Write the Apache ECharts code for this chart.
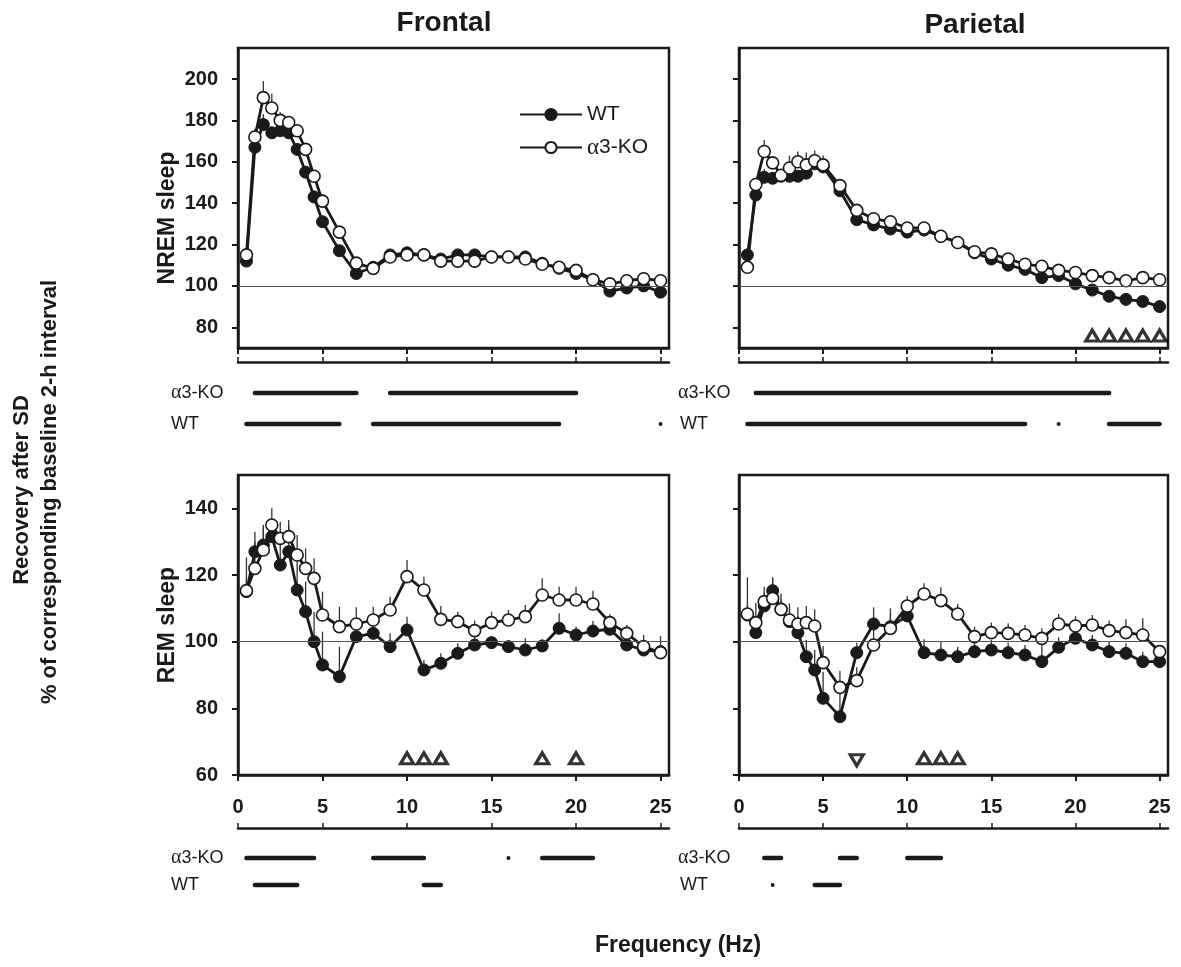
<!DOCTYPE html>
<html>
<head>
<meta charset="utf-8">
<script src="https://cdn.jsdelivr.net/npm/echarts@6/dist/echarts.min.js"></script>
<style>
html, body { margin: 0; padding: 0; background: #fff; }
#chart { width: 1181px; height: 967px; }
</style>
</head>
<body>
<div id="chart"></div>
<script>
// frequency bins (Hz)
const hz = [0.5, 1, 1.5, 2, 2.5, 3, 3.5, 4, 4.5, 5, 6, 7, 8, 9, 10, 11, 12, 13, 14, 15, 16, 17, 18, 19, 20, 21, 22, 23, 24, 25];
const xTicks = [0, 5, 10, 15, 20, 25];
const nremTicks = [80, 100, 120, 140, 160, 180, 200];
const remTicks = [60, 80, 100, 120, 140];

// NREM sleep, frontal
const nremFrWT = [112, 167, 178, 174, 175, 174, 166, 155, 143, 131, 117, 106, 109, 115, 116, 115, 113, 115, 115, 114, 114, 114, 111, 108.5, 106, 103, 97.5, 99, 100, 97];
const nremFrKO = [115, 172, 191, 186, 180, 179, 175, 166, 153, 141, 126, 111, 108.5, 114, 115, 115, 112, 112, 112, 114, 114, 113, 110.5, 109, 107.5, 103, 101, 102.5, 103.5, 102.5];
const nremFrWTErr = [2, 5, 5, 3, 3, 3, 3, 3, 3, 3, 2, 2, 2, 2, 2, 2, 2, 2, 2, 2, 2, 2, 2, 2, 2, 2, 2, 2, 2, 2];
const nremFrKOErr = [2, 4, 8, 7, 4, 3, 3, 3, 3, 3, 3, 2, 2, 2, 2, 2, 2, 2, 2, 2, 2, 2, 2, 2, 2, 2, 2, 2, 2, 2];

// NREM sleep, parietal
const nremPaWT = [115, 144, 152.5, 152, 153, 153, 153, 154.5, 159, 157.5, 146, 132, 129.5, 127.5, 126, 127, 124, 121, 116, 113, 110, 108, 104, 105, 101, 98, 95, 93.5, 92.5, 90];
const nremPaKO = [109, 149, 165, 159.5, 153.5, 157, 160, 158.5, 160.5, 158.5, 148.5, 136.5, 132.5, 131, 128, 128, 124, 121, 116.5, 115.5, 113, 110.5, 109.5, 107.5, 106.5, 105, 104, 102.5, 104, 103];
const nremPaWTErr = [2, 3, 4, 3, 2, 3, 3, 3, 3, 3, 2, 2, 2, 2, 2, 2, 2, 2, 2, 2, 2, 2, 2, 2, 2, 2, 2, 2, 2, 2];
const nremPaKOErr = [2, 3, 5.5, 3, 2, 6, 5, 6, 5, 4.5, 3, 2, 2, 2, 2, 2, 2, 2, 2, 2, 2, 2, 2, 2, 2, 2, 2, 2, 2, 2];

// REM sleep, frontal
const remFrWT = [115, 127, 129, 131.5, 123, 127, 115.5, 109, 100, 93, 89.5, 101.5, 102.5, 98.5, 103.5, 91.5, 93.5, 96.5, 99, 99.7, 98.5, 97.5, 98.7, 104, 102, 103.2, 103.7, 99, 97.5, 97];
const remFrKO = [115.3, 122, 127.5, 135, 131, 131.5, 126, 122, 119, 108, 104.5, 105.3, 106.5, 109.5, 119.5, 115.5, 106.7, 106, 103.3, 105.7, 106.5, 107.5, 114, 112.5, 112.5, 111.3, 105.7, 102.5, 98.5, 96.7];
const remFrWTErr = [4, 6, 6, 5, 7, 8, 10, 9, 9, 10, 9, 5, 4, 4, 4, 3, 3, 3, 3, 2, 2, 3.5, 2, 4.5, 2.5, 3, 2, 2, 2, 2];
const remFrKOErr = [10, 8, 7, 5, 5, 5, 6, 6, 6, 7, 6, 5, 4, 4, 5, 4, 4, 3, 3, 3.3, 3, 3.5, 5, 4, 4, 4, 2.5, 2.5, 3.5, 5];

// REM sleep, parietal
const remPaWT = [108, 102.7, 110.7, 115.3, 109.7, 106, 102.7, 95.5, 91.5, 83, 77.5, 96.7, 105.3, 104.5, 107.7, 96.7, 96, 95.5, 97, 97.5, 96.7, 96, 94, 98.3, 101, 99, 97, 96.5, 94, 94];
const remPaKO = [108.3, 105.7, 112, 113, 109.7, 106.5, 105.3, 105.7, 104.7, 93.7, 86.3, 88.3, 99, 104, 110.7, 114.3, 112.3, 108.3, 101.5, 102.7, 102.5, 102, 101, 105.3, 104.7, 105, 103.3, 102.7, 102, 97];
const remPaWTErr = [3, 4, 4, 4, 3, 4, 5, 5, 6, 8, 8.5, 3, 5, 4, 3, 4, 4, 3, 3, 3, 3, 3, 7, 3, 3, 3, 3, 3, 3, 2];
const remPaKOErr = [11, 6, 4.5, 6, 4.7, 5, 5, 5, 5, 5, 5, 4, 6, 6, 3, 3.2, 4, 3, 3, 3, 3, 3, 3, 3, 3, 3, 3, 4, 5, 2];

// significance markers (triangles)
const triNremPaUp = [21, 22, 23, 24, 25];
const triRemFrUp = [10, 11, 12, 18, 20];
const triRemPaUp = [11, 12, 13];
const triRemPaDown = [7];

// significance bars below panels: [from Hz, to Hz]
const sigNremFrKO = [[1, 7], [9, 20]];
const sigNremFrWT = [[0.5, 6], [8, 19], [25, 25]];
const sigNremPaKO = [[1, 22]];
const sigNremPaWT = [[0.5, 17], [19, 19], [22, 25]];
const sigRemFrKO = [[0.5, 4.5], [8, 11], [16, 16], [18, 21]];
const sigRemFrWT = [[1, 3.5], [11, 12]];
const sigRemPaKO = [[1.5, 2.5], [6, 7], [10, 12]];
const sigRemPaWT = [[2, 2], [4.5, 6]];

const FONT = "'Liberation Sans', Arial, sans-serif";
const SERIF = "'Liberation Serif', 'Times New Roman', serif";
const INK = '#1a1a1a';

const chart = echarts.init(document.getElementById('chart'));

const boxes = [
    {left: 238, top: 48, width: 431, height: 300},
    {left: 739, top: 48, width: 429, height: 300},
    {left: 238, top: 475, width: 431, height: 300},
    {left: 739, top: 475, width: 429, height: 300}
];
const sigBoxes = [
    {left: 238, top: 393, width: 431, height: 31},
    {left: 739, top: 393, width: 429, height: 31},
    {left: 238, top: 858, width: 431, height: 27},
    {left: 739, top: 858, width: 429, height: 27}
];

const grid = [];
const xAxis = [];
const yAxis = [];
const series = [];

boxes.forEach((b, g) => {
    grid.push(Object.assign({show: true, borderColor: INK, borderWidth: 2.5, backgroundColor: 'transparent'}, b));
    const isBottom = g >= 2;
    // main x axis on the box
    xAxis.push({
        gridIndex: g, type: 'value', min: 0, max: 25.5,
        axisLine: {show: true, onZero: false, lineStyle: {color: INK, width: 2.5}},
        axisTick: {show: true, inside: false, length: 6, customValues: xTicks, lineStyle: {color: INK, width: 2}},
        axisLabel: {show: isBottom, customValues: xTicks, margin: 22, fontSize: 20, fontWeight: 'bold', fontFamily: FONT, color: INK},
        splitLine: {show: false}
    });
    // lower axis line
    xAxis.push({
        gridIndex: g, type: 'value', min: 0, max: 25.5, position: 'bottom', offset: isBottom ? 53 : 14,
        axisLine: {show: true, onZero: false, lineStyle: {color: INK, width: 2.5}},
        axisTick: {show: true, inside: true, length: 5, customValues: xTicks, lineStyle: {color: INK, width: 1.5}},
        axisLabel: {show: false},
        splitLine: {show: false}
    });
    const ticks = isBottom ? remTicks : nremTicks;
    yAxis.push({
        gridIndex: g, type: 'value', min: isBottom ? 60 : 70, max: isBottom ? 150 : 215,
        axisLine: {show: true, onZero: false, lineStyle: {color: INK, width: 2.5}},
        axisTick: {show: true, inside: false, length: 6, customValues: ticks, lineStyle: {color: INK, width: 2}},
        axisLabel: {show: g % 2 === 0, customValues: ticks, margin: 20, fontSize: 20, fontWeight: 'bold', fontFamily: FONT, color: INK},
        splitLine: {show: false}
    });
});

sigBoxes.forEach((b, i) => {
    const g = 4 + i;
    grid.push(Object.assign({show: false}, b));
    xAxis.push({gridIndex: g, type: 'value', min: 0, max: 25.5, show: false});
    yAxis.push({gridIndex: g, type: 'value', min: 0, max: 1, show: false});
});

const panels = [
    {wt: nremFrWT, ko: nremFrKO, wtErr: nremFrWTErr, koErr: nremFrKOErr, up: [], down: [], triY: 76, sigKO: sigNremFrKO, sigWT: sigNremFrWT},
    {wt: nremPaWT, ko: nremPaKO, wtErr: nremPaWTErr, koErr: nremPaKOErr, up: triNremPaUp, down: [], triY: 76, sigKO: sigNremPaKO, sigWT: sigNremPaWT},
    {wt: remFrWT, ko: remFrKO, wtErr: remFrWTErr, koErr: remFrKOErr, up: triRemFrUp, down: [], triY: 65, sigKO: sigRemFrKO, sigWT: sigRemFrWT},
    {wt: remPaWT, ko: remPaKO, wtErr: remPaWTErr, koErr: remPaKOErr, up: triRemPaUp, down: triRemPaDown, triY: 65, sigKO: sigRemPaKO, sigWT: sigRemPaWT}
];

const errSeries = (g, vals, errs) => ({
    type: 'custom', xAxisIndex: g * 2, yAxisIndex: g, z: 1, silent: true,
    data: hz.map((h, i) => [h, vals[i], vals[i] + errs[i]]),
    renderItem: (params, api) => {
        const p0 = api.coord([api.value(0), api.value(1)]);
        const p1 = api.coord([api.value(0), api.value(2)]);
        return {type: 'line', shape: {x1: p0[0], y1: p0[1], x2: p1[0], y2: p1[1]}, style: {stroke: '#333', lineWidth: 1.3}};
    }
});

const sigSeries = (i, ko, wt) => ({
    type: 'custom', xAxisIndex: 8 + i, yAxisIndex: 4 + i, silent: true,
    data: ko.map(s => [s[0], s[1], 1]).concat(wt.map(s => [s[0], s[1], 0])),
    renderItem: (params, api) => {
        const a = api.coord([api.value(0), api.value(2)]);
        const b = api.coord([api.value(1), api.value(2)]);
        if (api.value(0) === api.value(1)) {
            return {type: 'circle', shape: {cx: a[0], cy: a[1], r: 2}, style: {fill: INK}};
        }
        return {type: 'line', shape: {x1: a[0], y1: a[1], x2: b[0], y2: b[1]}, style: {stroke: INK, lineWidth: 4.5, lineCap: 'round'}};
    }
});

const triStyle = {color: '#fff', borderColor: '#000', borderWidth: 3.2};

panels.forEach((p, g) => {
    series.push(errSeries(g, p.wt, p.wtErr));
    series.push(errSeries(g, p.ko, p.koErr));
    series.push({
        name: 'WT', type: 'line', xAxisIndex: g * 2, yAxisIndex: g, z: 3,
        data: hz.map((h, i) => [h, p.wt[i]]),
        symbol: 'circle', symbolSize: 12, showAllSymbol: true,
        lineStyle: {color: INK, width: 2.8},
        itemStyle: {color: INK, borderColor: INK, borderWidth: 1},
        markLine: {
            silent: true, symbol: ['none', 'none'], label: {show: false},
            lineStyle: {color: '#555', width: 1.2, type: 'solid'},
            data: [{yAxis: 100}]
        }
    });
    series.push({
        name: 'α3-KO', type: 'line', xAxisIndex: g * 2, yAxisIndex: g, z: 4,
        data: hz.map((h, i) => [h, p.ko[i]]),
        symbol: 'circle', symbolSize: 12, showAllSymbol: true,
        lineStyle: {color: INK, width: 2.8},
        itemStyle: {color: '#fff', borderColor: INK, borderWidth: 1.6}
    });
    if (p.up.length) {
        series.push({
            type: 'scatter', xAxisIndex: g * 2, yAxisIndex: g, z: 5, symbol: 'triangle', symbolSize: [13, 11],
            data: p.up.map(h => [h, p.triY]),
            itemStyle: triStyle
        });
    }
    if (p.down.length) {
        series.push({
            type: 'scatter', xAxisIndex: g * 2, yAxisIndex: g, z: 5, symbol: 'triangle', symbolRotate: 180, symbolSize: [13, 11],
            data: p.down.map(h => [h, p.triY - 0.6]),
            itemStyle: triStyle
        });
    }
    series.push(sigSeries(g, p.sigKO, p.sigWT));
});

const txt = (text, x, y, size, opts) => Object.assign({
    type: 'text', x: x, y: y,
    style: {text: text, fontSize: size, fontWeight: 'bold', fontFamily: FONT, fill: INK, textAlign: 'center', textVerticalAlign: 'middle'}
}, opts || {});

// row labels, alpha in a serif face like the original
const rowLabel = (text, x, y) => ({
    type: 'text', x: x, y: y,
    style: {
        text: text.replace('α', '{a|α}'), fontSize: 18, fontFamily: FONT, fill: INK, textAlign: 'left', textVerticalAlign: 'middle',
        rich: {a: {fontFamily: SERIF, fontSize: 20, fill: INK}}
    }
});

const option = {
    animation: false,
    backgroundColor: '#fff',
    grid: grid,
    xAxis: xAxis,
    yAxis: yAxis,
    legend: {
        data: ['WT', 'α3-KO'], orient: 'vertical', left: 514, top: 99,
        itemWidth: 62, itemHeight: 14, itemGap: 11,
        formatter: name => name.replace('α', '{a|α}'),
        textStyle: {fontSize: 21, fontFamily: FONT, color: INK, rich: {a: {fontFamily: SERIF, fontSize: 23, color: INK}}}
    },
    graphic: [
        txt('Frontal', 444, 23, 28),
        txt('Parietal', 975, 25, 28),
        txt('NREM sleep', 168, 218, 23, {rotation: Math.PI / 2}),
        txt('REM sleep', 168, 625, 23, {rotation: Math.PI / 2}),
        txt('Recovery after SD', 22, 490, 22, {rotation: Math.PI / 2}),
        txt('% of corresponding baseline 2-h interval', 50, 492, 22, {rotation: Math.PI / 2}),
        txt('Frequency (Hz)', 678, 946, 23),
        rowLabel('α3-KO', 171, 393),
        rowLabel('WT', 171, 424),
        rowLabel('α3-KO', 678, 393),
        rowLabel('WT', 680, 424),
        rowLabel('α3-KO', 171, 858),
        rowLabel('WT', 171, 885),
        rowLabel('α3-KO', 678, 858),
        rowLabel('WT', 680, 885)
    ],
    series: series
};

chart.setOption(option);
</script>
</body>
</html>
